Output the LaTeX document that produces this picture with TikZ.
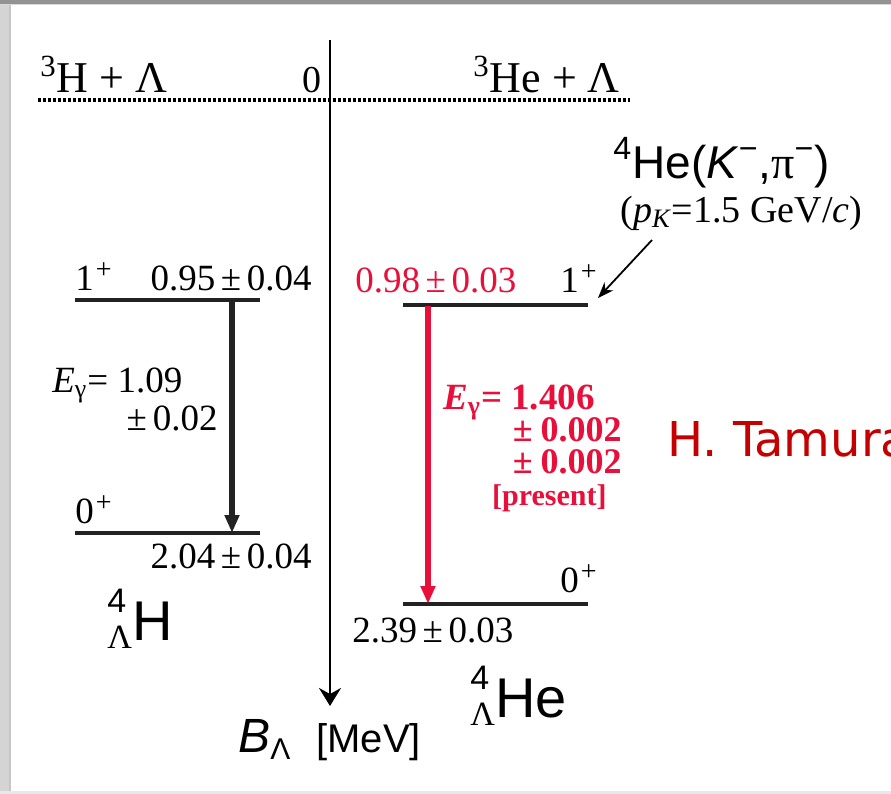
\documentclass[tikz,border=0pt]{standalone}
\usepackage{fontspec}
\setmainfont{Liberation Serif}
\setsansfont{Liberation Sans}
\newfontfamily\tamurafont{DejaVu Sans}
\usetikzlibrary{arrows.meta}
\definecolor{gamred}{RGB}{232,16,58}
\definecolor{namered}{RGB}{196,0,0}
\definecolor{framegray}{RGB}{212,212,212}
\definecolor{levgray}{RGB}{34,34,34}

\newcommand{\fs}[1]{\fontsize{#1}{#1}\selectfont}
\newcommand{\pmk}{\kern2.8pt±\kern2.8pt}
\newcommand{\spinp}[1]{#1\kern1pt\raisebox{6pt}{\fs{14}+}}
\newcommand{\egam}{\textit{E}\textsubscript{\smash{γ}}}

\begin{document}
\begin{tikzpicture}[x=0.5pt,y=-0.5pt,
  lab/.style={inner sep=0pt,anchor=base west},
  labr/.style={inner sep=0pt,anchor=base east},
  level/.style={line width=2.3pt,levgray},
  gam/.style={line width=2.6pt,-{Triangle[length=9pt,width=7pt]}}]

\useasboundingbox (0,0) rectangle (891,794);
\clip (0,0) rectangle (891,794);

% ===== FRAME (screen grab) =====
\fill[white] (0,0) rectangle (891,794);
\fill[framegray] (0,0) rectangle (10,794);
\fill[gray!45] (9,0) rectangle (11,794);
\fill[gray!85] (0,0) rectangle (891,3.5);
\fill[gray!30] (0,3.5) rectangle (891,5);
\fill[gray!18] (0,791) rectangle (891,794);

% ===== THRESHOLD (B = 0) =====
\coordinate (thrL) at (38,100);
\coordinate (thrR) at (630,100);
\draw[line width=1.6pt,dash pattern=on 1.6pt off 0.9pt] (thrL) -- (thrR);
\node[lab,font=\fs{22}] (thrH) at (40,92) {\textsuperscript{3}H + Λ};
\node[lab,font=\fs{19}] (zero) at (302,92) {0};
\node[lab,font=\fs{22}] (thrHe) at (473,92) {\textsuperscript{3}He + Λ};

% ===== B_Lambda AXIS =====
\coordinate (axtop) at (330,40);
\coordinate (axbot) at (330,706);
\draw[line width=1.1pt,-{Stealth[length=9pt,width=11pt,inset=3pt]}] (axtop) -- (axbot);
\node[lab,font=\sffamily\fs{24}] (blam) at (238,752) {\textit{B}\textsubscript{\fs{15}Λ}};
\node[lab,font=\sffamily\fs{20}] (mev) at (316,752) {[MeV]};

% ===== 4 Lambda H (left) =====
\coordinate (hA1) at (75,300);
\coordinate (hB1) at (260,300);
\coordinate (hA0) at (75,533);
\coordinate (hB0) at (260,533);
\draw[level] (hA1) -- (hB1);
\draw[level] (hA0) -- (hB0);
\node[lab,font=\fs{18.5}] (hspin1) at (75,290) {\spinp{1}};
\node[labr,font=\fs{18.5}] (hen1) at (312,290) {0.95\pmk 0.04};
\node[lab,font=\fs{18.5}] (hspin0) at (75,523) {\spinp{0}};
\node[labr,font=\fs{18.5}] (hen0) at (312,568) {2.04\pmk 0.04};
% gamma transition
\coordinate (hg1) at (232,299);
\coordinate (hg0) at (232,533);
\draw[gam,levgray] (hg1) -- (hg0);
\node[lab,font=\fs{18.5}] (heg) at (52,392) {\egam= 1.09};
\node[labr,font=\fs{18.5}] (hegerr) at (218,430) {±\kern3pt 0.02};
\node[lab,font=\sffamily\fs{28}] (hname) at (107,640)
  {\rlap{\raisebox{14pt}{\fs{17}4}}\raisebox{-4pt}{\rmfamily\fs{17}Λ}H};

% ===== 4 Lambda He (right) =====
\coordinate (eA1) at (403,305);
\coordinate (eB1) at (588,305);
\coordinate (eA0) at (403,604);
\coordinate (eB0) at (588,604);
\draw[level] (eA1) -- (eB1);
\draw[level] (eA0) -- (eB0);
\node[lab,font=\fs{18.5},gamred] (een1) at (355,292) {0.98\pmk 0.03};
\node[lab,font=\fs{18.5}] (espin1) at (560,292) {\spinp{1}};
\node[lab,font=\fs{18.5}] (espin0) at (560,592) {\spinp{0}};
\node[lab,font=\fs{18.5}] (een0) at (352,642) {2.39\pmk 0.03};
% gamma transition (present)
\coordinate (eg1) at (428,306);
\coordinate (eg0) at (428,604);
\draw[gam,gamred] (eg1) -- (eg0);
\node[labr,align=right,font=\bfseries\fontsize{18}{16}\selectfont,gamred] (eeg) at (622,505)
  {\fontsize{18.5}{16}\selectfont\egam= 1.406\hspace*{13.5pt}\\
   ±\kern4pt 0.002\\
   ±\kern4pt 0.002\\
   {\fs{15}[present]}\hspace*{7.5pt}};
\node[lab,font=\sffamily\fs{28}] (ename) at (470,717)
  {\rlap{\raisebox{14pt}{\fs{17}4}}\raisebox{-4pt}{\rmfamily\fs{17}Λ}He};

% ===== REACTION =====
\node[lab,font=\sffamily\fs{23}] (reac) at (613,178)
  {\textsuperscript{4}He(\textit{K}\textsuperscript{−},{\rmfamily π}\textsuperscript{−})};
\node[lab,font=\fs{19}] (mom) at (620,222) {(\textit{p}\textsubscript{\textit{K}}=1.5 GeV/\textit{c})};
\coordinate (reacfoot) at (652,240);
\coordinate (reactip) at (598,298);
\draw[line width=0.9pt,-{Stealth[length=8pt,width=6pt]}] (reacfoot) -- (reactip);

% credit
\node[lab,font=\tamurafont\fs{24},namered] (credit) at (667,456) {H. Tamura};

\end{tikzpicture}
\end{document}
